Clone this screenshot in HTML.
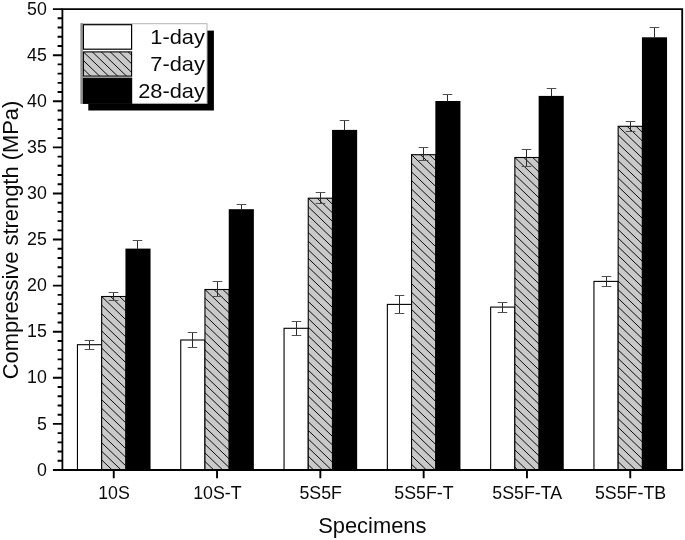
<!DOCTYPE html>
<html><head><meta charset="utf-8"><title>Compressive strength</title>
<style>html,body{margin:0;padding:0;background:#fff;overflow:hidden;}svg{display:block;filter:grayscale(1);}text{font-family:"Liberation Sans",Arial,sans-serif;fill:#0a0a0a;}</style></head><body>
<svg width="685" height="540" viewBox="0 0 685 540">
<rect width="685" height="540" fill="#fff"/>
<rect x="77.45" y="344.70" width="24.2" height="125.30" fill="#fff" stroke="#000" stroke-width="1.1"/>
<clipPath id="c1"><rect x="101.65" y="296.50" width="24.20" height="173.50"/></clipPath><rect x="101.65" y="296.50" width="24.20" height="173.50" fill="#c9c9c9"/><path clip-path="url(#c1)" d="M100.65,269.74 l26.20,25.15 M100.65,278.34 l26.20,25.15 M100.65,286.94 l26.20,25.15 M100.65,295.54 l26.20,25.15 M100.65,304.14 l26.20,25.15 M100.65,312.74 l26.20,25.15 M100.65,321.34 l26.20,25.15 M100.65,329.94 l26.20,25.15 M100.65,338.54 l26.20,25.15 M100.65,347.14 l26.20,25.15 M100.65,355.74 l26.20,25.15 M100.65,364.34 l26.20,25.15 M100.65,372.94 l26.20,25.15 M100.65,381.54 l26.20,25.15 M100.65,390.14 l26.20,25.15 M100.65,398.74 l26.20,25.15 M100.65,407.34 l26.20,25.15 M100.65,415.94 l26.20,25.15 M100.65,424.54 l26.20,25.15 M100.65,433.14 l26.20,25.15 M100.65,441.74 l26.20,25.15 M100.65,450.34 l26.20,25.15 M100.65,458.94 l26.20,25.15 M100.65,467.54 l26.20,25.15 " stroke="#000" stroke-width="0.95" fill="none"/><rect x="101.65" y="296.50" width="24.20" height="173.50" fill="none" stroke="#000" stroke-width="1.1"/>
<rect x="125.45" y="248.60" width="25.099999999999998" height="221.40" fill="#000"/>
<path d="M89.50,340.50 L89.50,349.50" stroke="#2a2a2a" stroke-width="1" fill="none"/>
<path d="M84.70,340.50 L94.30,340.50 M84.70,349.50 L94.30,349.50" stroke="#505050" stroke-width="1" fill="none"/>
<path d="M113.50,292.50 L113.50,300.50" stroke="#2a2a2a" stroke-width="1" fill="none"/>
<path d="M108.70,292.50 L118.30,292.50 M108.70,300.50 L118.30,300.50" stroke="#505050" stroke-width="1" fill="none"/>
<path d="M137.50,240.50 L137.50,248.90" stroke="#2a2a2a" stroke-width="1" fill="none"/>
<path d="M132.70,240.50 L142.30,240.50" stroke="#505050" stroke-width="1" fill="none"/>
<rect x="180.75" y="340.00" width="24.2" height="130.00" fill="#fff" stroke="#000" stroke-width="1.1"/>
<clipPath id="c2"><rect x="204.95" y="289.50" width="24.20" height="180.50"/></clipPath><rect x="204.95" y="289.50" width="24.20" height="180.50" fill="#c9c9c9"/><path clip-path="url(#c2)" d="M203.95,262.74 l26.20,25.15 M203.95,271.34 l26.20,25.15 M203.95,279.94 l26.20,25.15 M203.95,288.54 l26.20,25.15 M203.95,297.14 l26.20,25.15 M203.95,305.74 l26.20,25.15 M203.95,314.34 l26.20,25.15 M203.95,322.94 l26.20,25.15 M203.95,331.54 l26.20,25.15 M203.95,340.14 l26.20,25.15 M203.95,348.74 l26.20,25.15 M203.95,357.34 l26.20,25.15 M203.95,365.94 l26.20,25.15 M203.95,374.54 l26.20,25.15 M203.95,383.14 l26.20,25.15 M203.95,391.74 l26.20,25.15 M203.95,400.34 l26.20,25.15 M203.95,408.94 l26.20,25.15 M203.95,417.54 l26.20,25.15 M203.95,426.14 l26.20,25.15 M203.95,434.74 l26.20,25.15 M203.95,443.34 l26.20,25.15 M203.95,451.94 l26.20,25.15 M203.95,460.54 l26.20,25.15 " stroke="#000" stroke-width="0.95" fill="none"/><rect x="204.95" y="289.50" width="24.20" height="180.50" fill="none" stroke="#000" stroke-width="1.1"/>
<rect x="228.75" y="209.20" width="25.099999999999998" height="260.80" fill="#000"/>
<path d="M192.50,332.50 L192.50,347.50" stroke="#2a2a2a" stroke-width="1" fill="none"/>
<path d="M187.70,332.50 L197.30,332.50 M187.70,347.50 L197.30,347.50" stroke="#505050" stroke-width="1" fill="none"/>
<path d="M217.50,281.50 L217.50,296.50" stroke="#2a2a2a" stroke-width="1" fill="none"/>
<path d="M212.70,281.50 L222.30,281.50 M212.70,296.50 L222.30,296.50" stroke="#505050" stroke-width="1" fill="none"/>
<path d="M241.50,204.50 L241.50,209.50" stroke="#2a2a2a" stroke-width="1" fill="none"/>
<path d="M236.70,204.50 L246.30,204.50" stroke="#505050" stroke-width="1" fill="none"/>
<rect x="284.05" y="328.30" width="24.2" height="141.70" fill="#fff" stroke="#000" stroke-width="1.1"/>
<clipPath id="c3"><rect x="308.25" y="198.20" width="24.20" height="271.80"/></clipPath><rect x="308.25" y="198.20" width="24.20" height="271.80" fill="#c9c9c9"/><path clip-path="url(#c3)" d="M307.25,171.44 l26.20,25.15 M307.25,180.04 l26.20,25.15 M307.25,188.64 l26.20,25.15 M307.25,197.24 l26.20,25.15 M307.25,205.84 l26.20,25.15 M307.25,214.44 l26.20,25.15 M307.25,223.04 l26.20,25.15 M307.25,231.64 l26.20,25.15 M307.25,240.24 l26.20,25.15 M307.25,248.84 l26.20,25.15 M307.25,257.44 l26.20,25.15 M307.25,266.04 l26.20,25.15 M307.25,274.64 l26.20,25.15 M307.25,283.24 l26.20,25.15 M307.25,291.84 l26.20,25.15 M307.25,300.44 l26.20,25.15 M307.25,309.04 l26.20,25.15 M307.25,317.64 l26.20,25.15 M307.25,326.24 l26.20,25.15 M307.25,334.84 l26.20,25.15 M307.25,343.44 l26.20,25.15 M307.25,352.04 l26.20,25.15 M307.25,360.64 l26.20,25.15 M307.25,369.24 l26.20,25.15 M307.25,377.84 l26.20,25.15 M307.25,386.44 l26.20,25.15 M307.25,395.04 l26.20,25.15 M307.25,403.64 l26.20,25.15 M307.25,412.24 l26.20,25.15 M307.25,420.84 l26.20,25.15 M307.25,429.44 l26.20,25.15 M307.25,438.04 l26.20,25.15 M307.25,446.64 l26.20,25.15 M307.25,455.24 l26.20,25.15 M307.25,463.84 l26.20,25.15 " stroke="#000" stroke-width="0.95" fill="none"/><rect x="308.25" y="198.20" width="24.20" height="271.80" fill="none" stroke="#000" stroke-width="1.1"/>
<rect x="332.05" y="129.90" width="25.099999999999998" height="340.10" fill="#000"/>
<path d="M296.50,321.50 L296.50,335.50" stroke="#2a2a2a" stroke-width="1" fill="none"/>
<path d="M291.70,321.50 L301.30,321.50 M291.70,335.50 L301.30,335.50" stroke="#505050" stroke-width="1" fill="none"/>
<path d="M320.50,192.50 L320.50,203.50" stroke="#2a2a2a" stroke-width="1" fill="none"/>
<path d="M315.70,192.50 L325.30,192.50 M315.70,203.50 L325.30,203.50" stroke="#505050" stroke-width="1" fill="none"/>
<path d="M344.50,120.50 L344.50,130.20" stroke="#2a2a2a" stroke-width="1" fill="none"/>
<path d="M339.70,120.50 L349.30,120.50" stroke="#505050" stroke-width="1" fill="none"/>
<rect x="387.35" y="304.40" width="24.2" height="165.60" fill="#fff" stroke="#000" stroke-width="1.1"/>
<clipPath id="c4"><rect x="411.55" y="154.70" width="24.20" height="315.30"/></clipPath><rect x="411.55" y="154.70" width="24.20" height="315.30" fill="#c9c9c9"/><path clip-path="url(#c4)" d="M410.55,127.94 l26.20,25.15 M410.55,136.54 l26.20,25.15 M410.55,145.14 l26.20,25.15 M410.55,153.74 l26.20,25.15 M410.55,162.34 l26.20,25.15 M410.55,170.94 l26.20,25.15 M410.55,179.54 l26.20,25.15 M410.55,188.14 l26.20,25.15 M410.55,196.74 l26.20,25.15 M410.55,205.34 l26.20,25.15 M410.55,213.94 l26.20,25.15 M410.55,222.54 l26.20,25.15 M410.55,231.14 l26.20,25.15 M410.55,239.74 l26.20,25.15 M410.55,248.34 l26.20,25.15 M410.55,256.94 l26.20,25.15 M410.55,265.54 l26.20,25.15 M410.55,274.14 l26.20,25.15 M410.55,282.74 l26.20,25.15 M410.55,291.34 l26.20,25.15 M410.55,299.94 l26.20,25.15 M410.55,308.54 l26.20,25.15 M410.55,317.14 l26.20,25.15 M410.55,325.74 l26.20,25.15 M410.55,334.34 l26.20,25.15 M410.55,342.94 l26.20,25.15 M410.55,351.54 l26.20,25.15 M410.55,360.14 l26.20,25.15 M410.55,368.74 l26.20,25.15 M410.55,377.34 l26.20,25.15 M410.55,385.94 l26.20,25.15 M410.55,394.54 l26.20,25.15 M410.55,403.14 l26.20,25.15 M410.55,411.74 l26.20,25.15 M410.55,420.34 l26.20,25.15 M410.55,428.94 l26.20,25.15 M410.55,437.54 l26.20,25.15 M410.55,446.14 l26.20,25.15 M410.55,454.74 l26.20,25.15 M410.55,463.34 l26.20,25.15 " stroke="#000" stroke-width="0.95" fill="none"/><rect x="411.55" y="154.70" width="24.20" height="315.30" fill="none" stroke="#000" stroke-width="1.1"/>
<rect x="435.35" y="101.00" width="25.099999999999998" height="369.00" fill="#000"/>
<path d="M399.50,295.50 L399.50,313.50" stroke="#2a2a2a" stroke-width="1" fill="none"/>
<path d="M394.70,295.50 L404.30,295.50 M394.70,313.50 L404.30,313.50" stroke="#505050" stroke-width="1" fill="none"/>
<path d="M423.50,147.50 L423.50,160.50" stroke="#2a2a2a" stroke-width="1" fill="none"/>
<path d="M418.70,147.50 L428.30,147.50 M418.70,160.50 L428.30,160.50" stroke="#505050" stroke-width="1" fill="none"/>
<path d="M447.50,94.50 L447.50,101.30" stroke="#2a2a2a" stroke-width="1" fill="none"/>
<path d="M442.70,94.50 L452.30,94.50" stroke="#505050" stroke-width="1" fill="none"/>
<rect x="490.65" y="307.10" width="24.2" height="162.90" fill="#fff" stroke="#000" stroke-width="1.1"/>
<clipPath id="c5"><rect x="514.85" y="157.50" width="24.20" height="312.50"/></clipPath><rect x="514.85" y="157.50" width="24.20" height="312.50" fill="#c9c9c9"/><path clip-path="url(#c5)" d="M513.85,130.74 l26.20,25.15 M513.85,139.34 l26.20,25.15 M513.85,147.94 l26.20,25.15 M513.85,156.54 l26.20,25.15 M513.85,165.14 l26.20,25.15 M513.85,173.74 l26.20,25.15 M513.85,182.34 l26.20,25.15 M513.85,190.94 l26.20,25.15 M513.85,199.54 l26.20,25.15 M513.85,208.14 l26.20,25.15 M513.85,216.74 l26.20,25.15 M513.85,225.34 l26.20,25.15 M513.85,233.94 l26.20,25.15 M513.85,242.54 l26.20,25.15 M513.85,251.14 l26.20,25.15 M513.85,259.74 l26.20,25.15 M513.85,268.34 l26.20,25.15 M513.85,276.94 l26.20,25.15 M513.85,285.54 l26.20,25.15 M513.85,294.14 l26.20,25.15 M513.85,302.74 l26.20,25.15 M513.85,311.34 l26.20,25.15 M513.85,319.94 l26.20,25.15 M513.85,328.54 l26.20,25.15 M513.85,337.14 l26.20,25.15 M513.85,345.74 l26.20,25.15 M513.85,354.34 l26.20,25.15 M513.85,362.94 l26.20,25.15 M513.85,371.54 l26.20,25.15 M513.85,380.14 l26.20,25.15 M513.85,388.74 l26.20,25.15 M513.85,397.34 l26.20,25.15 M513.85,405.94 l26.20,25.15 M513.85,414.54 l26.20,25.15 M513.85,423.14 l26.20,25.15 M513.85,431.74 l26.20,25.15 M513.85,440.34 l26.20,25.15 M513.85,448.94 l26.20,25.15 M513.85,457.54 l26.20,25.15 M513.85,466.14 l26.20,25.15 " stroke="#000" stroke-width="0.95" fill="none"/><rect x="514.85" y="157.50" width="24.20" height="312.50" fill="none" stroke="#000" stroke-width="1.1"/>
<rect x="538.65" y="95.90" width="25.099999999999998" height="374.10" fill="#000"/>
<path d="M502.50,302.50 L502.50,312.50" stroke="#2a2a2a" stroke-width="1" fill="none"/>
<path d="M497.70,302.50 L507.30,302.50 M497.70,312.50 L507.30,312.50" stroke="#505050" stroke-width="1" fill="none"/>
<path d="M526.50,149.50 L526.50,166.50" stroke="#2a2a2a" stroke-width="1" fill="none"/>
<path d="M521.70,149.50 L531.30,149.50 M521.70,166.50 L531.30,166.50" stroke="#505050" stroke-width="1" fill="none"/>
<path d="M551.50,88.50 L551.50,96.20" stroke="#2a2a2a" stroke-width="1" fill="none"/>
<path d="M546.70,88.50 L556.30,88.50" stroke="#505050" stroke-width="1" fill="none"/>
<rect x="593.95" y="281.40" width="24.2" height="188.60" fill="#fff" stroke="#000" stroke-width="1.1"/>
<clipPath id="c6"><rect x="618.15" y="126.30" width="24.20" height="343.70"/></clipPath><rect x="618.15" y="126.30" width="24.20" height="343.70" fill="#c9c9c9"/><path clip-path="url(#c6)" d="M617.15,99.54 l26.20,25.15 M617.15,108.14 l26.20,25.15 M617.15,116.74 l26.20,25.15 M617.15,125.34 l26.20,25.15 M617.15,133.94 l26.20,25.15 M617.15,142.54 l26.20,25.15 M617.15,151.14 l26.20,25.15 M617.15,159.74 l26.20,25.15 M617.15,168.34 l26.20,25.15 M617.15,176.94 l26.20,25.15 M617.15,185.54 l26.20,25.15 M617.15,194.14 l26.20,25.15 M617.15,202.74 l26.20,25.15 M617.15,211.34 l26.20,25.15 M617.15,219.94 l26.20,25.15 M617.15,228.54 l26.20,25.15 M617.15,237.14 l26.20,25.15 M617.15,245.74 l26.20,25.15 M617.15,254.34 l26.20,25.15 M617.15,262.94 l26.20,25.15 M617.15,271.54 l26.20,25.15 M617.15,280.14 l26.20,25.15 M617.15,288.74 l26.20,25.15 M617.15,297.34 l26.20,25.15 M617.15,305.94 l26.20,25.15 M617.15,314.54 l26.20,25.15 M617.15,323.14 l26.20,25.15 M617.15,331.74 l26.20,25.15 M617.15,340.34 l26.20,25.15 M617.15,348.94 l26.20,25.15 M617.15,357.54 l26.20,25.15 M617.15,366.14 l26.20,25.15 M617.15,374.74 l26.20,25.15 M617.15,383.34 l26.20,25.15 M617.15,391.94 l26.20,25.15 M617.15,400.54 l26.20,25.15 M617.15,409.14 l26.20,25.15 M617.15,417.74 l26.20,25.15 M617.15,426.34 l26.20,25.15 M617.15,434.94 l26.20,25.15 M617.15,443.54 l26.20,25.15 M617.15,452.14 l26.20,25.15 M617.15,460.74 l26.20,25.15 " stroke="#000" stroke-width="0.95" fill="none"/><rect x="618.15" y="126.30" width="24.20" height="343.70" fill="none" stroke="#000" stroke-width="1.1"/>
<rect x="641.95" y="37.30" width="25.099999999999998" height="432.70" fill="#000"/>
<path d="M606.50,276.50 L606.50,286.50" stroke="#2a2a2a" stroke-width="1" fill="none"/>
<path d="M601.70,276.50 L611.30,276.50 M601.70,286.50 L611.30,286.50" stroke="#505050" stroke-width="1" fill="none"/>
<path d="M630.50,121.50 L630.50,131.50" stroke="#2a2a2a" stroke-width="1" fill="none"/>
<path d="M625.70,121.50 L635.30,121.50 M625.70,131.50 L635.30,131.50" stroke="#505050" stroke-width="1" fill="none"/>
<path d="M654.50,27.50 L654.50,37.60" stroke="#2a2a2a" stroke-width="1" fill="none"/>
<path d="M649.70,27.50 L659.30,27.50" stroke="#505050" stroke-width="1" fill="none"/>
<path d="M62.4,470.0 L62.4,9.15 L682.2,9.15 L682.2,470.0" fill="none" stroke="#000" stroke-width="1.8" stroke-linejoin="miter"/>
<path d="M52.90,470.0 L683.10,470.0" fill="none" stroke="#000" stroke-width="2.1"/>
<path d="M57.60,460.78 L62.40,460.78 M57.60,451.56 L62.40,451.56 M57.60,442.35 L62.40,442.35 M57.60,433.13 L62.40,433.13 M52.90,423.91 L62.40,423.91 M57.60,414.69 L62.40,414.69 M57.60,405.47 L62.40,405.47 M57.60,396.26 L62.40,396.26 M57.60,387.04 L62.40,387.04 M52.90,377.82 L62.40,377.82 M57.60,368.60 L62.40,368.60 M57.60,359.38 L62.40,359.38 M57.60,350.17 L62.40,350.17 M57.60,340.95 L62.40,340.95 M52.90,331.73 L62.40,331.73 M57.60,322.51 L62.40,322.51 M57.60,313.29 L62.40,313.29 M57.60,304.08 L62.40,304.08 M57.60,294.86 L62.40,294.86 M52.90,285.64 L62.40,285.64 M57.60,276.42 L62.40,276.42 M57.60,267.20 L62.40,267.20 M57.60,257.99 L62.40,257.99 M57.60,248.77 L62.40,248.77 M52.90,239.55 L62.40,239.55 M57.60,230.33 L62.40,230.33 M57.60,221.11 L62.40,221.11 M57.60,211.90 L62.40,211.90 M57.60,202.68 L62.40,202.68 M52.90,193.46 L62.40,193.46 M57.60,184.24 L62.40,184.24 M57.60,175.02 L62.40,175.02 M57.60,165.81 L62.40,165.81 M57.60,156.59 L62.40,156.59 M52.90,147.37 L62.40,147.37 M57.60,138.15 L62.40,138.15 M57.60,128.93 L62.40,128.93 M57.60,119.72 L62.40,119.72 M57.60,110.50 L62.40,110.50 M52.90,101.28 L62.40,101.28 M57.60,92.06 L62.40,92.06 M57.60,82.84 L62.40,82.84 M57.60,73.63 L62.40,73.63 M57.60,64.41 L62.40,64.41 M52.90,55.19 L62.40,55.19 M57.60,45.97 L62.40,45.97 M57.60,36.75 L62.40,36.75 M57.60,27.54 L62.40,27.54 M57.60,18.32 L62.40,18.32 M52.90,9.10 L62.40,9.10 " stroke="#000" stroke-width="1.9" fill="none"/>
<path d="M113.75,470.00 L113.75,478.20 M217.05,470.00 L217.05,478.20 M320.35,470.00 L320.35,478.20 M423.65,470.00 L423.65,478.20 M526.95,470.00 L526.95,478.20 M630.25,470.00 L630.25,478.20 " stroke="#000" stroke-width="1.9" fill="none"/>
<text x="46.8" y="475.60" font-size="17.8" text-anchor="end">0</text>
<text x="46.8" y="429.51" font-size="17.8" text-anchor="end">5</text>
<text x="46.8" y="383.42" font-size="17.8" text-anchor="end">10</text>
<text x="46.8" y="337.33" font-size="17.8" text-anchor="end">15</text>
<text x="46.8" y="291.24" font-size="17.8" text-anchor="end">20</text>
<text x="46.8" y="245.15" font-size="17.8" text-anchor="end">25</text>
<text x="46.8" y="199.06" font-size="17.8" text-anchor="end">30</text>
<text x="46.8" y="152.97" font-size="17.8" text-anchor="end">35</text>
<text x="46.8" y="106.88" font-size="17.8" text-anchor="end">40</text>
<text x="46.8" y="60.79" font-size="17.8" text-anchor="end">45</text>
<text x="46.8" y="14.70" font-size="17.8" text-anchor="end">50</text>
<text x="114.05" y="499.1" font-size="17.8" text-anchor="middle">10S</text>
<text x="217.35" y="499.1" font-size="17.8" text-anchor="middle">10S-T</text>
<text x="320.65" y="499.1" font-size="17.8" text-anchor="middle">5S5F</text>
<text x="423.95" y="499.1" font-size="17.8" text-anchor="middle">5S5F-T</text>
<text x="527.25" y="499.1" font-size="17.8" text-anchor="middle">5S5F-TA</text>
<text x="630.55" y="499.1" font-size="17.8" text-anchor="middle">5S5F-TB</text>
<text x="372.3" y="532.9" font-size="21.9" text-anchor="middle">Specimens</text>
<text transform="translate(17.9,240) rotate(-90)" font-size="21.9" text-anchor="middle">Compressive strength (MPa)</text>
<rect x="88.3" y="30.6" width="125.6" height="79.9" fill="#000"/>
<rect x="81.0" y="23.7" width="126.0" height="79.7" fill="#fff" stroke="#b4b4b4" stroke-width="1"/>
<rect x="80.5" y="23.2" width="2.3" height="80.6" fill="#909090"/>
<rect x="83.4" y="24.7" width="48.2" height="24.50" fill="#fff" stroke="#000" stroke-width="1.2"/>
<clipPath id="c7"><rect x="83.40" y="51.90" width="48.20" height="24.20"/></clipPath><rect x="83.40" y="51.90" width="48.20" height="24.20" fill="#c9c9c9"/><path clip-path="url(#c7)" d="M82.40,-0.66 l50.20,48.19 M82.40,7.94 l50.20,48.19 M82.40,16.54 l50.20,48.19 M82.40,25.14 l50.20,48.19 M82.40,33.74 l50.20,48.19 M82.40,42.34 l50.20,48.19 M82.40,50.94 l50.20,48.19 M82.40,59.54 l50.20,48.19 M82.40,68.14 l50.20,48.19 " stroke="#000" stroke-width="0.95" fill="none"/><rect x="83.40" y="51.90" width="48.20" height="24.20" fill="none" stroke="#000" stroke-width="1.1"/>
<rect x="83.4" y="78.2" width="48.2" height="25.10" fill="#000" stroke="#000" stroke-width="1.2"/>
<text transform="translate(204.8,44.3) scale(1,0.96)" font-size="21.8" text-anchor="end">1-day</text>
<text transform="translate(204.8,71.4) scale(1,0.96)" font-size="21.8" text-anchor="end">7-day</text>
<text transform="translate(204.8,97.9) scale(1,0.96)" font-size="21.8" text-anchor="end">28-day</text>
</svg></body></html>
